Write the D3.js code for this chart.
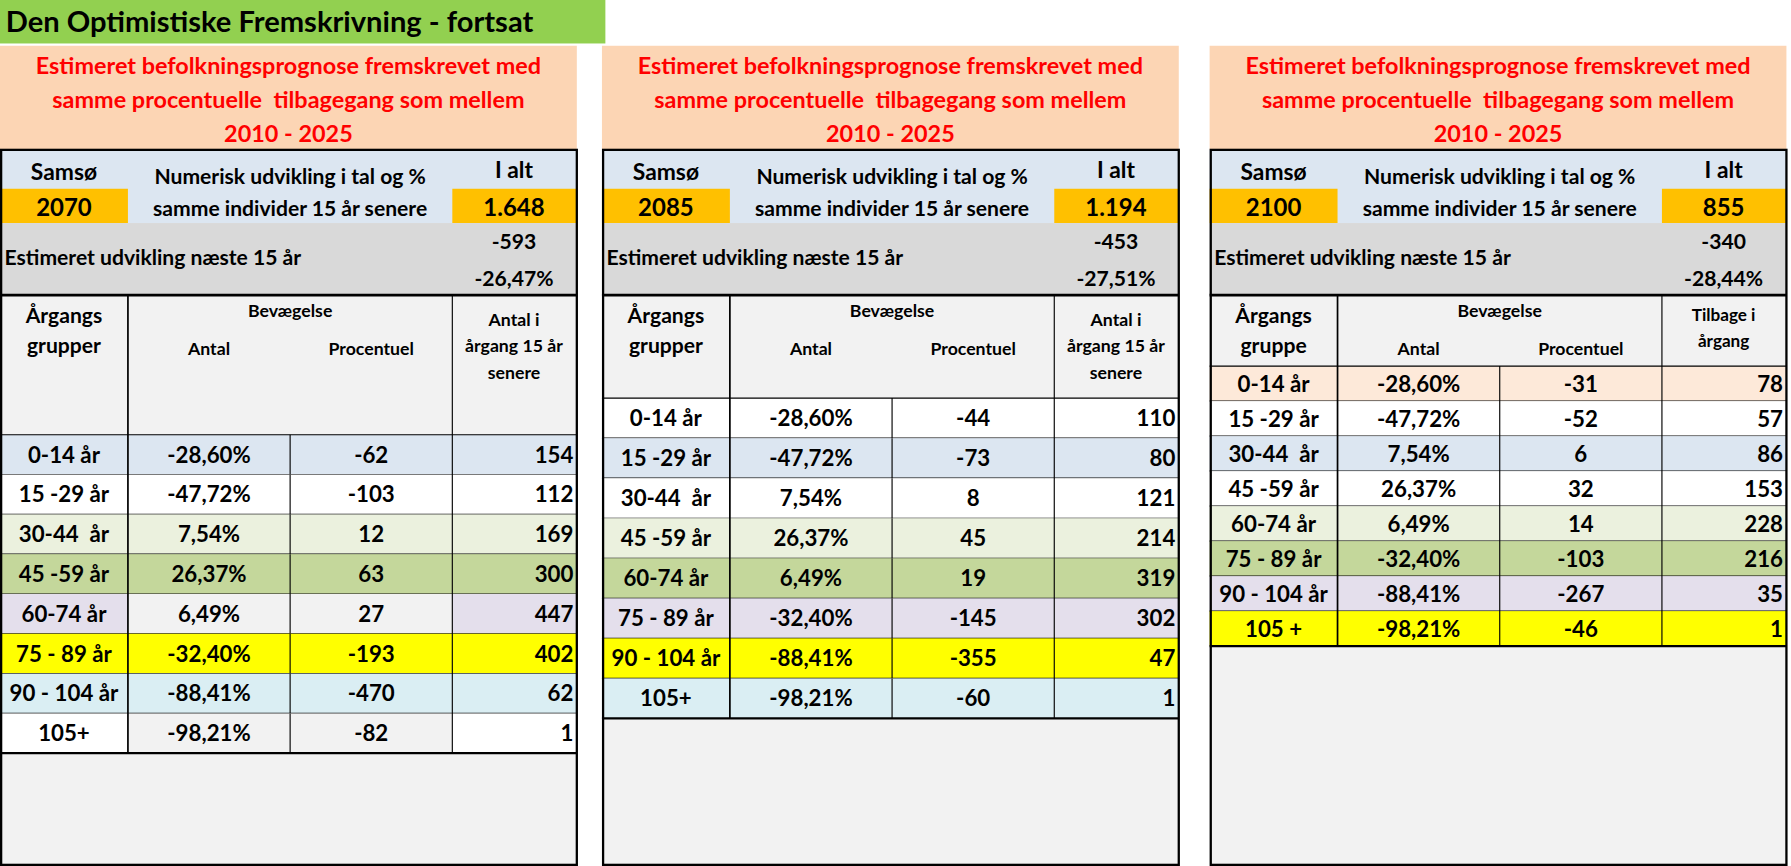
<!DOCTYPE html>
<html>
<head>
<meta charset="utf-8">
<script src="https://cdn.jsdelivr.net/npm/d3@7"></script>
<style>
  body { margin: 0; background: #fff; }
  text { font-family: Lato, "Open Sans", sans-serif; font-weight: bold; fill: #000; }
</style>
</head>
<body>
<svg id="chart" width="1791" height="866" viewBox="0 0 1568 757" preserveAspectRatio="none"></svg>
<script>
// panel data
const years = ["2070", "2085", "2100"];
const totals = ["1.648", "1.194", "855"];
const changeNum = ["-593", "-453", "-340"];
const changePct = ["-26,47%", "-27,51%", "-28,44%"];

const groups1 = ["0-14 år", "15 -29 år", "30-44  år", "45 -59 år", "60-74 år", "75 - 89 år", "90 - 104 år", "105+"];
const groups2 = ["0-14 år", "15 -29 år", "30-44  år", "45 -59 år", "60-74 år", "75 - 89 år", "90 - 104 år", "105+"];
const groups3 = ["0-14 år", "15 -29 år", "30-44  år", "45 -59 år", "60-74 år", "75 - 89 år", "90 - 104 år", "105 +"];
const pcts = ["-28,60%", "-47,72%", "7,54%", "26,37%", "6,49%", "-32,40%", "-88,41%", "-98,21%"];
const moves1 = ["-62", "-103", "12", "63", "27", "-193", "-470", "-82"];
const moves2 = ["-44", "-73", "8", "45", "19", "-145", "-355", "-60"];
const moves3 = ["-31", "-52", "6", "32", "14", "-103", "-267", "-46"];
const later1 = [154, 112, 169, 300, 447, 402, 62, 1];
const later2 = [110, 80, 121, 214, 319, 302, 47, 1];
const later3 = [78, 57, 86, 153, 228, 216, 35, 1];

// row colours [first col, middle cols, last col]
const fills1 = [["#dce6f1","#dce6f1","#dce6f1"],["#fff","#fff","#fff"],["#ebf1de","#ebf1de","#ebf1de"],["#c4d79b","#c4d79b","#c4d79b"],["#e4dfec","#f2f2f2","#e4dfec"],["#ffff00","#ffff00","#ffff00"],["#daeef3","#daeef3","#daeef3"],["#fff","#f2f2f2","#fff"]];
const fills2 = [["#fff","#fff","#fff"],["#dce6f1","#dce6f1","#dce6f1"],["#fff","#fff","#fff"],["#ebf1de","#ebf1de","#ebf1de"],["#c4d79b","#c4d79b","#c4d79b"],["#e4dfec","#e4dfec","#e4dfec"],["#ffff00","#ffff00","#ffff00"],["#daeef3","#daeef3","#daeef3"]];
const fills3 = [["#fde9d9","#fde9d9","#fde9d9"],["#fff","#fff","#fff"],["#dce6f1","#dce6f1","#dce6f1"],["#fff","#fff","#fff"],["#ebf1de","#ebf1de","#ebf1de"],["#c4d79b","#c4d79b","#c4d79b"],["#e4dfec","#e4dfec","#e4dfec"],["#ffff00","#ffff00","#ffff00"]];

const panels = [
  { x: 0, groups: groups1, moves: moves1, later: later1, fills: fills1, rowTop: 380, rowH: 34.8,
    colHead: ["Årgangs", "grupper"], lastHead: ["Antal i", "årgang 15 år", "senere"], headH: 122 },
  { x: 527, groups: groups2, moves: moves2, later: later2, fills: fills2, rowTop: 348, rowH: 35,
    colHead: ["Årgangs", "grupper"], lastHead: ["Antal i", "årgang 15 år", "senere"], headH: 90 },
  { x: 1059, groups: groups3, moves: moves3, later: later3, fills: fills3, rowTop: 320, rowH: 30.6,
    colHead: ["Årgangs", "gruppe"], lastHead: ["Tilbage i", "årgang"], headH: 62 }
];

const svg = d3.select("#chart");

// title
svg.append("rect").attr("x", 0).attr("y", 0).attr("width", 530).attr("height", 38).attr("fill", "#92d050");
svg.append("text").attr("x", 5).attr("y", 28).attr("font-size", 25.5).text("Den Optimistiske Fremskrivning - fortsat");

const W = 505;

panels.forEach((p, i) => {
  const g = svg.append("g").attr("transform", `translate(${p.x},0)`);
  // background
  g.append("rect").attr("x", 0).attr("y", 131).attr("width", W).attr("height", 626).attr("fill", "#f2f2f2");
  // peach header
  g.append("rect").attr("x", 0).attr("y", 40).attr("width", W).attr("height", 91).attr("fill", "#fcd5b4");
  ["Estimeret befolkningsprognose fremskrevet med", "samme procentuelle  tilbagegang som mellem", "2010 - 2025"].forEach((t, k) => {
    g.append("text").attr("x", W / 2).attr("y", 65 + k * 29.5).attr("text-anchor", "middle")
      .attr("font-size", 20.5).style("fill", "#ff0000").style("white-space", "pre").text(t);
  });
  // top info rows
  g.append("rect").attr("x", 0).attr("y", 131).attr("width", W).attr("height", 64).attr("fill", "#dce6f1");
  g.append("rect").attr("x", 0).attr("y", 165).attr("width", 112).attr("height", 30).attr("fill", "#ffc000");
  g.append("rect").attr("x", 396).attr("y", 165).attr("width", W - 396).attr("height", 30).attr("fill", "#ffc000");
  g.append("text").attr("x", 56).attr("y", 157).attr("text-anchor", "middle").attr("font-size", 20).text("Samsø");
  g.append("text").attr("x", 56).attr("y", 189).attr("text-anchor", "middle").attr("font-size", 21).text(years[i]);
  g.append("text").attr("x", 254).attr("y", 161).attr("text-anchor", "middle").attr("font-size", 18.5).text("Numerisk udvikling i tal og %");
  g.append("text").attr("x", 254).attr("y", 189).attr("text-anchor", "middle").attr("font-size", 18.5).text("samme individer 15 år senere");
  g.append("text").attr("x", 450).attr("y", 156).attr("text-anchor", "middle").attr("font-size", 20).text("I alt");
  g.append("text").attr("x", 450).attr("y", 189).attr("text-anchor", "middle").attr("font-size", 21).text(totals[i]);
  // gray estimate row
  g.append("rect").attr("x", 0).attr("y", 195).attr("width", W).attr("height", 63).attr("fill", "#d9d9d9");
  g.append("text").attr("x", 4).attr("y", 232).attr("font-size", 18.5).text("Estimeret udvikling næste 15 år");
  g.append("text").attr("x", 450).attr("y", 218).attr("text-anchor", "middle").attr("font-size", 18.5).text(changeNum[i]);
  g.append("text").attr("x", 450).attr("y", 250).attr("text-anchor", "middle").attr("font-size", 18.5).text(changePct[i]);

  // header block
  const hTop = 258, hBot = hTop + p.headH;
  g.append("text").attr("x", 56).attr("y", hTop + 24).attr("text-anchor", "middle").attr("font-size", 18.5).text(p.colHead[0]);
  g.append("text").attr("x", 56).attr("y", hTop + 51).attr("text-anchor", "middle").attr("font-size", 18.5).text(p.colHead[1]);
  g.append("text").attr("x", 254).attr("y", hTop + 19).attr("text-anchor", "middle").attr("font-size", 15.5).text("Bevægelse");
  g.append("text").attr("x", 183).attr("y", hTop + 52).attr("text-anchor", "middle").attr("font-size", 15.5).text("Antal");
  g.append("text").attr("x", 325).attr("y", hTop + 52).attr("text-anchor", "middle").attr("font-size", 15.5).text("Procentuel");
  const three = p.lastHead.length === 3;
  p.lastHead.forEach((t, k) => {
    g.append("text").attr("x", 450).attr("y", hTop + (three ? 27 : 23) + k * (three ? 23 : 22))
      .attr("text-anchor", "middle").attr("font-size", three ? 15.5 : 15).text(t);
  });

  // data rows
  const y = d3.scaleBand().domain(d3.range(p.groups.length))
    .range([p.rowTop, p.rowTop + p.rowH * p.groups.length]);
  const rows = g.selectAll("g.row").data(p.groups).join("g").attr("class", "row");
  rows.each(function (d, r) {
    const row = d3.select(this);
    const top = y(r), h = y.bandwidth();
    const f = p.fills[r];
    [[0, 112, f[0]], [112, 396, f[1]], [396, W, f[2]]].forEach(([a, b, c]) => {
      row.append("rect").attr("x", a).attr("y", top).attr("width", b - a).attr("height", h).attr("fill", c);
    });
    const ty = top + h / 2 + 7;
    const fs = 19.5;
    row.append("text").attr("x", 56).attr("y", ty).attr("text-anchor", "middle").attr("font-size", fs).style("white-space", "pre").text(d);
    row.append("text").attr("x", 183).attr("y", ty).attr("text-anchor", "middle").attr("font-size", fs).text(pcts[r]);
    row.append("text").attr("x", 325).attr("y", ty).attr("text-anchor", "middle").attr("font-size", fs).text(p.moves[r]);
    row.append("text").attr("x", W - 3).attr("y", ty).attr("text-anchor", "end").attr("font-size", fs).text(p.later[r]);
    row.append("line").attr("x1", 0).attr("x2", W).attr("y1", top + h).attr("y2", top + h)
      .attr("stroke", "#000").attr("stroke-width", r === p.groups.length - 1 ? 2 : 1);
    row.append("line").attr("x1", 254).attr("x2", 254).attr("y1", top).attr("y2", top + h).attr("stroke", "#000");
  });
  const rowsBot = p.rowTop + p.rowH * p.groups.length;

  // grid lines
  g.append("line").attr("x1", 0).attr("x2", W).attr("y1", hBot).attr("y2", hBot).attr("stroke", "#000");
  [112, 396].forEach(cx => {
    g.append("line").attr("x1", cx).attr("x2", cx).attr("y1", hTop).attr("y2", rowsBot)
      .attr("stroke", "#000").attr("stroke-width", cx === 112 ? 1.5 : 1);
  });
  g.append("line").attr("x1", 0).attr("x2", W).attr("y1", hTop).attr("y2", hTop).attr("stroke", "#000").attr("stroke-width", 2.5);
  // outer border of table
  g.append("rect").attr("x", 1).attr("y", 131).attr("width", W - 1).attr("height", 625)
    .attr("fill", "none").attr("stroke", "#000").attr("stroke-width", 2);
});
</script>
</body>
</html>
